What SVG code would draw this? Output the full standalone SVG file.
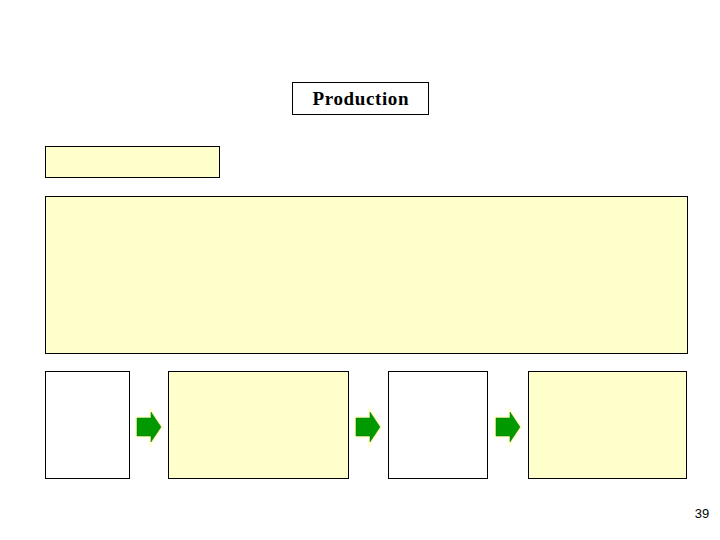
<svg xmlns="http://www.w3.org/2000/svg" width="720" height="540" viewBox="0 0 720 540">
<style>
.box{stroke:#000;stroke-width:1}
.y{fill:#FFFFCC}
.w{fill:#FFFFFF}
.arr{fill:#009900;stroke:#007700;stroke-width:0.5}
.glow{fill:#FFFFE0;stroke:#FFFFD0;stroke-width:4}
</style>
<defs>
<g id="arrow">
<path class="glow" d="M0,11 H14 V5 L24,20 L14,35 V29 H0 Z"/>
<path class="arr" d="M0,11 H14 V5 L24,20 L14,35 V29 H0 Z"/>
</g>
</defs>
<rect width="720" height="540" fill="#fff"/>
<g id="production">
<rect class="box w" x="292.5" y="82.5" width="136" height="32"/>
<text x="360.5" y="105" font-family="Liberation Serif, serif" font-weight="bold" font-size="19" text-anchor="middle" textLength="96">Production</text>
</g>
<g id="header-box"><rect class="box y" x="45.5" y="146.5" width="174" height="31"/></g>
<g id="main-box"><rect class="box y" x="45.5" y="196.5" width="642" height="157"/></g>
<g id="step1"><rect class="box w" x="45.5" y="371.5" width="84" height="107"/></g>
<g id="step2"><rect class="box y" x="168.5" y="371.5" width="180" height="107"/></g>
<g id="step3"><rect class="box w" x="388.5" y="371.5" width="99" height="107"/></g>
<g id="step4"><rect class="box y" x="528.5" y="371.5" width="158" height="107"/></g>
<g id="connectors">
<use href="#arrow" x="137" y="407"/>
<use href="#arrow" x="356" y="407"/>
<use href="#arrow" x="496" y="407"/>
</g>
<text x="702" y="518" font-family="Liberation Sans, sans-serif" font-size="13" text-anchor="middle">39</text>
</svg>
